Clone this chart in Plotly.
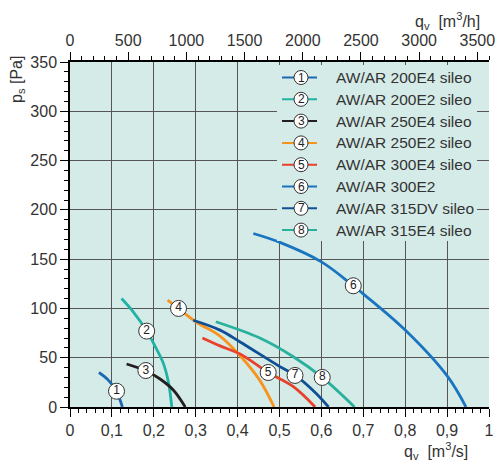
import plotly.graph_objects as go

# ---------------- data ----------------
names = ["AW/AR 200E4 sileo", "AW/AR 200E2 sileo", "AW/AR 250E4 sileo",
         "AW/AR 250E2 sileo", "AW/AR 300E4 sileo", "AW/AR 300E2",
         "AW/AR 315DV sileo", "AW/AR 315E4 sileo"]
colors = ["#1b6ab3", "#20b3a5", "#231f20", "#f7941d", "#e8412c", "#1a75c0", "#0f4f95", "#2ab19d"]

q1 = [0.069, 0.09, 0.105, 0.115, 0.125]
p1 = [35, 28, 20, 12, 0]
q2 = [0.123, 0.15, 0.183, 0.205, 0.223, 0.235, 0.243]
p2 = [110, 97, 77, 60, 44, 25, 0]
q3 = [0.135, 0.181, 0.215, 0.247, 0.275]
p3 = [43.6, 36.8, 28.4, 17, 0]
q4 = [0.233, 0.259, 0.302, 0.358, 0.406, 0.453, 0.487]
p4 = [108.5, 100, 86, 72, 52, 27, 0]
q5 = [0.316, 0.358, 0.406, 0.473, 0.533, 0.585]
p5 = [70, 62, 53.7, 35, 20.6, 0]
q6 = [0.4375, 0.501, 0.601, 0.676, 0.702, 0.80, 0.901, 0.945]
p6 = [176, 167, 147, 123, 114, 78, 31, 0]
q7 = [0.294, 0.358, 0.406, 0.501, 0.537, 0.587, 0.617]
p7 = [88, 78, 66, 41, 32.4, 14, 0]
q8 = [0.348, 0.453, 0.533, 0.602, 0.679]
p8 = [86.5, 70, 51, 30, 0]

curves_q = [q1, q2, q3, q4, q5, q6, q7, q8]
curves_p = [p1, p2, p3, p4, p5, p6, p7, p8]

label_q = [0.111, 0.183, 0.181, 0.259, 0.473, 0.676, 0.537, 0.602]
label_p = [16, 77, 37, 100, 35, 123, 32, 30]
label_txt = ["1", "2", "3", "4", "5", "6", "7", "8"]

x_ticks = [0, 0.1, 0.2, 0.3, 0.4, 0.5, 0.6, 0.7, 0.8, 0.9, 1]
x_ticktext = ["0", "0,1", "0,2", "0,3", "0,4", "0,5", "0,6", "0,7", "0,8", "0,9", "1"]
x2_ticks = [0, 500, 1000, 1500, 2000, 2500, 3000, 3500]
y_ticks = [0, 50, 100, 150, 200, 250, 300, 350]

FONT = "Liberation Sans, Arial, sans-serif"
TXT = "#333333"
BG = "#d5ebe8"
GRID = "#555555"

fig = go.Figure()
for i in range(8):
    fig.add_trace(go.Scatter(x=curves_q[i], y=curves_p[i], mode="lines",
                             line=dict(color=colors[i], width=2.8, shape="spline", smoothing=1.0),
                             showlegend=False, hoverinfo="skip"))

fig.add_trace(go.Scatter(x=label_q, y=label_p, mode="markers+text", text=label_txt,
                         textposition="middle center",
                         textfont=dict(family=FONT, size=12, color="#222"),
                         marker=dict(size=16, color="white", line=dict(color="#333", width=1)),
                         showlegend=False, hoverinfo="skip"))

# invisible trace for top axis
fig.add_trace(go.Scatter(x=[0, 3600], y=[0, 0], xaxis="x2", mode="markers",
                         marker=dict(opacity=0), showlegend=False, hoverinfo="skip"))

# ---------------- custom legend ----------------
W, H, L, T = 419.0, 345.0, 70.0, 62.0
def px(x):
    return (x - L) / W
def py(y):
    return (T + H - y) / H

shapes = [dict(type="rect", xref="paper", yref="paper", x0=px(277), x1=px(477),
               y0=py(241), y1=py(65), fillcolor=BG, line=dict(width=0), layer="above")]
annotations = []
for i in range(8):
    yy = 77.5 + i * 21.8
    shapes.append(dict(type="line", xref="paper", yref="paper", x0=px(282), x1=px(317),
                       y0=py(yy), y1=py(yy), line=dict(color=colors[i], width=2)))
    shapes.append(dict(type="circle", xref="paper", yref="paper", xsizemode="pixel", ysizemode="pixel",
                       xanchor=px(301), yanchor=py(yy), x0=-7, x1=7, y0=-7, y1=7,
                       fillcolor="white", line=dict(color="#333", width=1)))
    annotations.append(dict(xref="paper", yref="paper", x=px(301), y=py(yy), text=label_txt[i],
                            showarrow=False, font=dict(family=FONT, size=12, color="#222"),
                            xanchor="center", yanchor="middle"))
    annotations.append(dict(xref="paper", yref="paper", x=px(334), y=py(yy), text=names[i],
                            showarrow=False, font=dict(family=FONT, size=15.5, color=TXT),
                            xanchor="left", yanchor="middle"))

# axis titles
annotations.append(dict(xref="paper", yref="paper", x=px(470), y=py(451), xanchor="right", yanchor="middle",
                        text="q<sub>v</sub>  [m<sup>3</sup>/s]", showarrow=False,
                        font=dict(family=FONT, size=16, color=TXT)))
annotations.append(dict(xref="paper", yref="paper", x=px(482), y=py(21), xanchor="right", yanchor="middle",
                        text="q<sub>v</sub>  [m<sup>3</sup>/h]", showarrow=False,
                        font=dict(family=FONT, size=16, color=TXT)))
annotations.append(dict(xref="paper", yref="paper", x=px(17), y=py(80), xanchor="center", yanchor="middle",
                        text="p<sub>s</sub> [Pa]", textangle=-90, showarrow=False,
                        font=dict(family=FONT, size=16, color=TXT)))

fig.update_layout(
    width=496, height=466,
    margin=dict(l=70, r=7, t=62, b=59),
    paper_bgcolor="white", plot_bgcolor=BG,
    font=dict(family=FONT, size=16, color=TXT),
    showlegend=False,
    shapes=shapes, annotations=annotations,
    xaxis=dict(range=[0, 1], tickvals=x_ticks, ticktext=x_ticktext, ticks="outside", ticklen=8,
               tickwidth=1, tickcolor="black", showline=True, linecolor="black", linewidth=1.5,
               showgrid=True, gridcolor=GRID, gridwidth=1, zeroline=False, automargin=False,
               minor=dict(dtick=0.02, ticks="outside", ticklen=4, tickcolor="black", showgrid=False),
               tickfont=dict(size=16, color=TXT)),
    xaxis2=dict(range=[0, 3600], overlaying="x", side="top", anchor="y", tickvals=x2_ticks,
                ticks="outside", ticklen=8, tickwidth=1, tickcolor="black", showline=True,
                linecolor="black", linewidth=1.5, showgrid=False, zeroline=False, automargin=False,
                minor=dict(dtick=100, ticks="outside", ticklen=4, tickcolor="black", showgrid=False),
                tickfont=dict(size=16, color=TXT)),
    yaxis=dict(range=[0, 350], tickvals=y_ticks, ticks="outside", ticklen=8, tickwidth=1,
               tickcolor="black", showline=True, linecolor="black", linewidth=1.5,
               showgrid=True, gridcolor=GRID, gridwidth=1, zeroline=False, automargin=False,
               minor=dict(dtick=10, ticks="outside", ticklen=4, tickcolor="black", showgrid=False),
               tickfont=dict(size=16, color=TXT)),
)

fig.write_html("out.html", config={"displayModeBar": False},
               post_script="document.body.style.margin='0';document.body.style.overflow='hidden';")
